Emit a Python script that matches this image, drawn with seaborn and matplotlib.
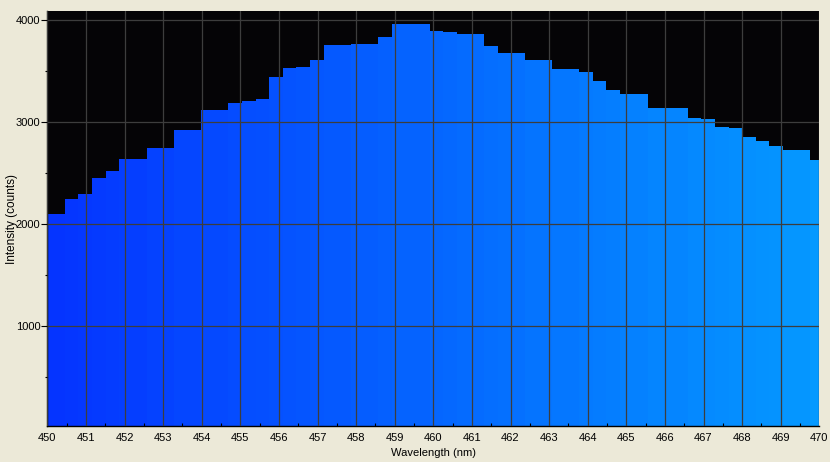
import numpy as np
import pandas as pd
import matplotlib
matplotlib.use("Agg")
import matplotlib.pyplot as plt
import seaborn as sns

# Bin edges (nm) of the spectrometer pixels and the measured counts
edges_nm = [449.9, 450.46, 450.80, 451.16, 451.52, 451.86, 452.58, 453.28, 453.99,
            454.68, 455.04, 455.41, 455.74, 456.11, 456.44, 456.81, 457.17, 457.87,
            458.57, 458.93, 459.91, 460.25, 460.61, 461.31, 461.68, 462.38, 463.08,
            463.77, 464.14, 464.47, 464.84, 465.56, 466.60, 466.94, 467.30, 467.66,
            468.02, 468.36, 468.70, 469.06, 469.76, 470.1]
counts = [2101, 2248, 2297, 2454, 2523, 2640, 2748, 2925, 3121, 3189, 3209, 3228,
          3444, 3532, 3542, 3611, 3758, 3768, 3837, 3964, 3895, 3885, 3866, 3748,
          3680, 3611, 3523, 3493, 3405, 3317, 3278, 3140, 3042, 3032, 2954, 2944,
          2856, 2817, 2768, 2729, 2630]

x_ticks = list(range(450, 471))
y_ticks = [1000, 2000, 3000, 4000]

edges = np.array(edges_nm)
centers = (edges[:-1] + edges[1:]) / 2
df = pd.DataFrame({"wavelength": centers, "counts": counts})

sns.set_theme(style="dark")
plt.rcParams["font.family"] = ["Liberation Sans", "DejaVu Sans"]

fig = plt.figure(figsize=(8.3, 4.62), dpi=100, facecolor="#ECE9D8")
ax = fig.add_axes([47.3 / 830, 1 - 426 / 462, (819.3 - 47.3) / 830, (426 - 11) / 462])
ax.set_facecolor("#050406")

sns.histplot(data=df, x="wavelength", weights="counts", bins=list(edges_nm),
             stat="count", element="bars", linewidth=0, alpha=1, ax=ax, legend=False)

# wavelength-to-colour (blue region)
def wl_color(w):
    g = min(max((w - 440) / 50.0, 0), 1)
    return (0.02, g, 1.0)

for p, c in zip(ax.patches, centers):
    p.set_facecolor(wl_color(c))
    p.set_edgecolor("none")

ax.set_xlim(450, 470)
ax.set_ylim(22, 4091)
ax.set_xticks(x_ticks)
ax.set_xticklabels([str(t) for t in x_ticks])
ax.set_yticks(y_ticks)
ax.set_yticklabels([str(t) for t in y_ticks])
ax.set_xticks(np.arange(450.5, 470, 1.0), minor=True)
ax.set_yticks([500, 1500, 2500, 3500], minor=True)

ax.set_axisbelow(False)
ax.grid(True, which="major", color="#3d3d3d", linewidth=0.9)
ax.grid(False, which="minor")

ax.tick_params(axis="x", which="major", direction="in", length=0, pad=5,
               labelsize=8, colors="black")
ax.tick_params(axis="x", which="minor", direction="in", length=2.2, width=0.8,
               color="black", bottom=True)
ax.tick_params(axis="y", which="major", direction="out", length=4.5, width=0.8,
               pad=0.5, labelsize=8, color="black", labelcolor="black", left=True)
ax.tick_params(axis="y", which="minor", direction="out", length=1.8, width=0.8,
               color="black", left=True)

for s in ["top", "right"]:
    ax.spines[s].set_visible(False)
for s in ["left", "bottom"]:
    ax.spines[s].set_visible(True)
    ax.spines[s].set_color("black")
    ax.spines[s].set_linewidth(1.0)

ax.set_xlabel("Wavelength (nm)", fontsize=8, color="black", labelpad=3.5)
ax.set_ylabel("Intensity (counts)", fontsize=8.5, color="black", labelpad=-1.5)

fig.savefig("out.png", dpi=100, facecolor=fig.get_facecolor())
